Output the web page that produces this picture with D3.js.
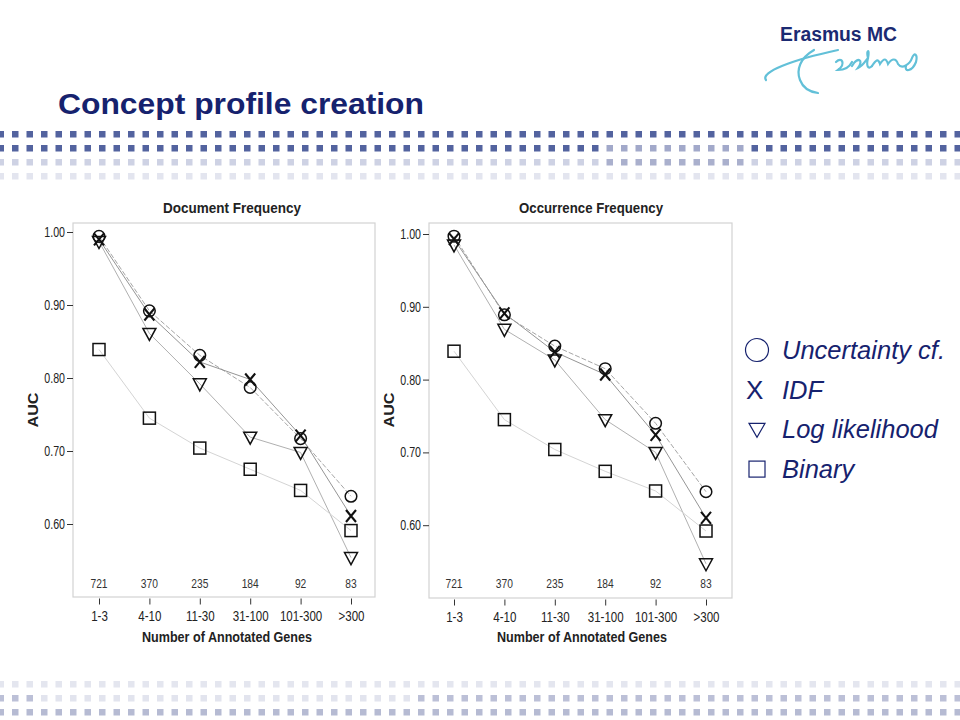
<!DOCTYPE html>
<html>
<head>
<meta charset="utf-8">
<script src="https://cdn.jsdelivr.net/npm/d3@7"></script>
<style>
  body { margin: 0; background: #fff; }
  svg { display: block; }
  .tick text { font-family: "Liberation Sans", Arial, sans-serif; }
</style>
</head>
<body>
<svg id="slide" width="960" height="720"></svg>
<script>
// categories and values
const categories = ['1-3', '4-10', '11-30', '31-100', '101-300', '>300'];
const geneCounts = [721, 370, 235, 184, 92, 83];
const yTicks = [0.60, 0.70, 0.80, 0.90, 1.00];

const docUncertainty = [0.994, 0.892, 0.831, 0.787, 0.717, 0.638];
const docIdf         = [0.990, 0.887, 0.822, 0.798, 0.721, 0.611];
const docLogLik      = [0.987, 0.861, 0.792, 0.719, 0.698, 0.554];
const docBinary      = [0.839, 0.745, 0.704, 0.675, 0.646, 0.591];

const occUncertainty = [0.997, 0.889, 0.846, 0.815, 0.740, 0.646];
const occIdf         = [0.993, 0.891, 0.838, 0.807, 0.724, 0.610];
const occLogLik      = [0.985, 0.869, 0.827, 0.745, 0.700, 0.547];
const occBinary      = [0.839, 0.745, 0.704, 0.674, 0.647, 0.592];

const legendLabels = ['Uncertainty cf.', 'IDF', 'Log likelihood', 'Binary'];

const NAVY = '#16226e';
const SANS = '"Liberation Sans", Arial, sans-serif';

const svg = d3.select('#slide');

// no narrow font installed, so squeeze Liberation Sans a bit
function narrow(sel, k) {
    sel.each(function () {
        const w = this.getComputedTextLength();
        d3.select(this).attr('textLength', w * k).attr('lengthAdjust', 'spacingAndGlyphs');
    });
}

// ---- slide decoration: dotted bands ----
function dotRow(y, colorFor) {
    svg.append('g').selectAll('rect')
        .data(d3.range(67))
        .enter().append('rect')
        .attr('x', i => 0.5 + 14.5 * i - 3)
        .attr('y', y - 3)
        .attr('width', 6.5)
        .attr('height', 6.5)
        .attr('fill', colorFor);
}
dotRow(134, () => '#53639f');
dotRow(148, i => (i >= 42 && i <= 51) ? '#a2a9ca' : '#53639f');
dotRow(162, i => (i >= 42 && i <= 51) ? '#aab0cd' : '#ced2e4');
dotRow(176, () => '#e3e5ef');

dotRow(684, () => '#e4e6ef');
dotRow(698, i => (i <= 2 || i >= 29) ? '#bcc0d7' : '#e2e4ee');
dotRow(712, () => '#b6bbd3');

// ---- title ----
svg.append('text')
    .attr('x', 58).attr('y', 114)
    .attr('font-family', SANS).attr('font-weight', 'bold')
    .attr('font-size', 29).attr('fill', NAVY)
    .attr('textLength', 366).attr('lengthAdjust', 'spacingAndGlyphs')
    .text('Concept profile creation');

// ---- logo ----
svg.append('text')
    .attr('x', 780).attr('y', 41)
    .attr('font-family', SANS).attr('font-weight', 'bold')
    .attr('font-size', 20).attr('fill', '#1b2a72')
    .attr('textLength', 117).attr('lengthAdjust', 'spacingAndGlyphs')
    .text('Erasmus MC');

const logo = svg.append('g')
    .attr('fill', 'none').attr('stroke', '#62c0d8')
    .attr('stroke-width', 2.2).attr('stroke-linecap', 'round');
logo.append('path').attr('d', 'M766,80 C760,72 792,60 838,50');
logo.append('path').attr('d', 'M814,50 C800,58 796,70 800,80 C803,88 810,92 818,93');
logo.append('path').attr('d', 'M836,62 C842,56 846,64 838,70 C846,70 850,66 852,62');
logo.append('path').attr('d', 'M852,66 C858,56 864,60 858,68 C863,66 866,60 868,58 C866,50 870,48 868,58 C866,66 868,70 872,66');
logo.append('path').attr('d', 'M872,66 C876,60 878,58 880,64 C884,58 886,58 888,64 C892,58 896,58 898,64 C902,70 910,64 912,58 C914,52 918,54 916,62 C912,72 904,72 906,66');

// ---- panels ----
const seriesStyle = [
    { shape: 'circle',   line: '#a6a6a6', dash: '5,2' },
    { shape: 'cross',    line: '#959595', dash: null },
    { shape: 'triangle', line: '#b0b0b0', dash: null },
    { shape: 'square',   line: '#d4d4d4', dash: null }
];

function drawMarker(g, shape, cx, cy, color, sw) {
    if (shape === 'circle') {
        g.append('circle').attr('cx', cx).attr('cy', cy).attr('r', 5.8)
            .attr('fill', 'none').attr('stroke', color).attr('stroke-width', sw);
    } else if (shape === 'cross') {
        g.append('path')
            .attr('d', `M${cx - 5},${cy - 6}L${cx + 5},${cy + 6}M${cx + 5},${cy - 6}L${cx - 5},${cy + 6}`)
            .attr('fill', 'none').attr('stroke', color).attr('stroke-width', sw + 0.6);
    } else if (shape === 'triangle') {
        g.append('path')
            .attr('d', `M${cx - 6.5},${cy - 5}L${cx + 6.5},${cy - 5}L${cx},${cy + 7}Z`)
            .attr('fill', 'none').attr('stroke', color).attr('stroke-width', sw);
    } else {
        g.append('rect').attr('x', cx - 6).attr('y', cy - 6).attr('width', 12).attr('height', 12)
            .attr('fill', 'none').attr('stroke', color).attr('stroke-width', sw);
    }
}

function drawPanel(opts) {
    const { title, titleX, titleLen, frame, xRange, yRange, yLabelX, series } = opts;
    const g = svg.append('g');

    const x = d3.scalePoint().domain(categories).range(xRange);
    const y = d3.scaleLinear().domain([0.5, 1.0]).range(yRange);

    g.append('rect')
        .attr('x', frame.x0).attr('y', frame.y0)
        .attr('width', frame.x1 - frame.x0).attr('height', frame.y1 - frame.y0)
        .attr('fill', '#fff').attr('stroke', '#d2d2d2').attr('stroke-width', 1.2);

    g.append('text')
        .attr('x', titleX).attr('y', 213)
        .attr('text-anchor', 'middle')
        .attr('font-family', SANS).attr('font-weight', 'bold').attr('font-size', 15)
        .attr('fill', '#222')
        .attr('textLength', titleLen).attr('lengthAdjust', 'spacingAndGlyphs')
        .text(title);

    // y axis
    const yAxis = g.append('g')
        .attr('transform', `translate(${frame.x0},0)`)
        .call(d3.axisLeft(y).tickValues(yTicks).tickFormat(d3.format('.2f')).tickSize(6).tickPadding(2));
    yAxis.select('.domain').remove();
    yAxis.selectAll('.tick line').attr('stroke', '#333');
    yAxis.selectAll('.tick text').attr('font-size', 14).attr('fill', '#222');
    narrow(yAxis.selectAll('.tick text'), 0.76);

    // x axis
    const xAxis = g.append('g')
        .attr('transform', `translate(0,${frame.y1 + 1.5})`)
        .call(d3.axisBottom(x).tickSize(6).tickPadding(6));
    xAxis.select('.domain').remove();
    xAxis.selectAll('.tick line').attr('stroke', '#333');
    xAxis.selectAll('.tick text').attr('font-size', 15).attr('fill', '#222');
    narrow(xAxis.selectAll('.tick text'), 0.77);

    g.append('text')
        .attr('x', (xRange[0] + xRange[1]) / 2 + 2).attr('y', 642)
        .attr('text-anchor', 'middle')
        .attr('font-family', SANS).attr('font-weight', 'bold').attr('font-size', 15.5)
        .attr('fill', '#222')
        .attr('textLength', 170).attr('lengthAdjust', 'spacingAndGlyphs')
        .text('Number of Annotated Genes');

    g.append('text')
        .attr('transform', `translate(${yLabelX},410) rotate(-90)`)
        .attr('text-anchor', 'middle')
        .attr('font-family', SANS).attr('font-weight', 'bold').attr('font-size', 15)
        .attr('fill', '#222')
        .attr('textLength', 35).attr('lengthAdjust', 'spacingAndGlyphs')
        .text('AUC');

    // counts per bin
    const counts = g.append('g').selectAll('text')
        .data(geneCounts)
        .enter().append('text')
        .attr('x', (d, i) => x(categories[i]))
        .attr('y', 588)
        .attr('text-anchor', 'middle')
        .attr('font-family', SANS).attr('font-size', 13.5)
        .attr('fill', '#333')
        .text(d => d);
    narrow(counts, 0.76);

    const line = d3.line()
        .x((d, i) => x(categories[i]))
        .y(d => y(d));

    series.forEach((vals, s) => {
        g.append('path')
            .datum(vals)
            .attr('d', line)
            .attr('fill', 'none')
            .attr('stroke', seriesStyle[s].line)
            .attr('stroke-width', 1)
            .attr('stroke-dasharray', seriesStyle[s].dash);
    });

    series.forEach((vals, s) => {
        vals.forEach((v, i) => {
            drawMarker(g, seriesStyle[s].shape, x(categories[i]), y(v), '#111', 1.5);
        });
    });
}

drawPanel({
    title: 'Document Frequency',
    titleX: 232,
    titleLen: 138,
    frame: { x0: 73, y0: 223, x1: 375, y1: 597 },
    xRange: [99, 351],
    yRange: [597, 232],
    yLabelX: 38,
    series: [docUncertainty, docIdf, docLogLik, docBinary]
});

drawPanel({
    title: 'Occurrence Frequency',
    titleX: 591,
    titleLen: 144,
    frame: { x0: 429, y0: 223, x1: 732, y1: 598 },
    xRange: [454, 706],
    yRange: [598, 234],
    yLabelX: 394,
    series: [occUncertainty, occIdf, occLogLik, occBinary]
});

// ---- legend ----
const legend = svg.append('g');
legendLabels.forEach((label, i) => {
    const cy = 350 + i * 39.7;
    if (i === 0) {
        legend.append('circle').attr('cx', 757).attr('cy', cy).attr('r', 11.5)
            .attr('fill', 'none').attr('stroke', NAVY).attr('stroke-width', 1.2);
    } else if (i === 1) {
        legend.append('text').attr('x', 746).attr('y', cy + 9)
            .attr('font-family', SANS).attr('font-size', 26).attr('fill', NAVY)
            .text('X');
    } else if (i === 2) {
        legend.append('path')
            .attr('d', `M${749},${cy - 6}L${765},${cy - 6}L${757},${cy + 8}Z`)
            .attr('fill', 'none').attr('stroke', NAVY).attr('stroke-width', 1.2);
    } else {
        legend.append('rect').attr('x', 749).attr('y', cy - 8).attr('width', 16).attr('height', 16)
            .attr('fill', 'none').attr('stroke', NAVY).attr('stroke-width', 1.2);
    }
    legend.append('text')
        .attr('x', 782).attr('y', cy + 9)
        .attr('font-family', SANS).attr('font-style', 'italic').attr('font-size', 25.5)
        .attr('fill', NAVY)
        .text(label);
});
</script>
</body>
</html>
